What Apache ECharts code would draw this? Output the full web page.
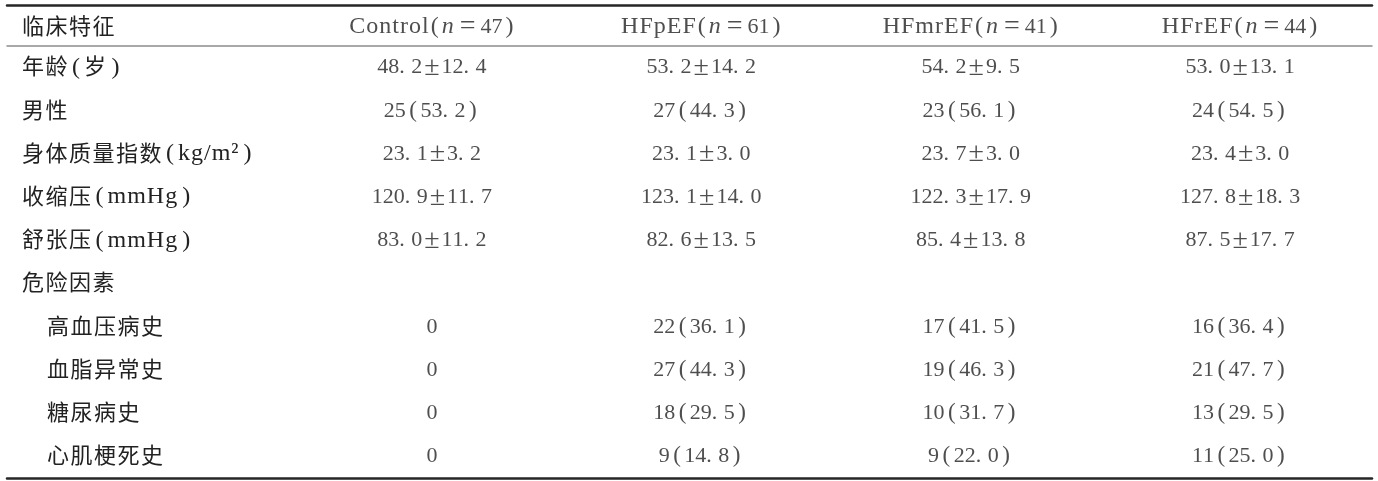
<!DOCTYPE html>
<html>
<head>
<meta charset="utf-8">
<script src="https://cdn.jsdelivr.net/npm/echarts@6/dist/echarts.min.js"></script>
<style>
html,body{margin:0;padding:0;background:#fff;}
#chart{width:1378px;height:481px;}
</style>
</head>
<body>
<div id="chart"></div>
<script>
// ---- data ----
var headerLabel = '临床特征';
var groupNames = ['Control', 'HFpEF', 'HFmrEF', 'HFrEF'];
var groupN = [47, 61, 41, 44];
var rowLabels = ['年龄(岁)', '男性', '身体质量指数(kg/m²)', '收缩压(mmHg)', '舒张压(mmHg)', '危险因素', '高血压病史', '血脂异常史', '糖尿病史', '心肌梗死史'];
var subRows = ['高血压病史', '血脂异常史', '糖尿病史', '心肌梗死史'];
var controlVals = ['48.2±12.4', '25(53.2)', '23.1±3.2', '120.9±11.7', '83.0±11.2', '', '0', '0', '0', '0'];
var hfpefVals = ['53.2±14.2', '27(44.3)', '23.1±3.0', '123.1±14.0', '82.6±13.5', '', '22(36.1)', '27(44.3)', '18(29.5)', '9(14.8)'];
var hfmrefVals = ['54.2±9.5', '23(56.1)', '23.7±3.0', '122.3±17.9', '85.4±13.8', '', '17(41.5)', '19(46.3)', '10(31.7)', '9(22.0)'];
var hfrefVals = ['53.0±13.1', '24(54.5)', '23.4±3.0', '127.8±18.3', '87.5±17.7', '', '16(36.4)', '21(47.7)', '13(29.5)', '11(25.0)'];

// ---- build ----
var columns = [controlVals, hfpefVals, hfmrefVals, hfrefVals];
var LAT = '"Liberation Serif", serif';
var CJK = '"Noto Sans CJK SC", sans-serif';
var TXT = '#222';
var LH = 28;

function st(font, size, pad, extra) {
  return Object.assign({fontFamily: font, fontSize: size, color: TXT, lineHeight: LH, verticalAlign: 'middle', padding: pad}, extra || {});
}
var rich = {
  c: st(CJK, 22, [0, 1.5, 3, 0]),
  ci: st(CJK, 22, [0, 1.5, 3, 25]),
  L: st(LAT, 24, [0, 1, 0, 0]),
  d: st(LAT, 22, [0, 0, 0, 0]),
  dot: st(LAT, 22, [0, 6.5, 0, 0]),
  pm: st(LAT, 28, [0, 2, 0, 2]),
  lp: st(LAT, 24, [0, 4, 0, 3]),
  rp: st(LAT, 24, [0, 3, 0, 4]),
  np: st(LAT, 23, [0, 3.5, 0, 3.5]),
  hp: st(LAT, 24, [0, 3, 0, 1]),
  hrp: st(LAT, 24, [0, 1, 0, 3]),
  eq: st(LAT, 28, [0, 5, 0, 5]),
  i: st(LAT, 24, [0, 1, 0, 0], {fontStyle: 'italic'})
};

// turn a text into rich tokens (character spacing like the typeset original)
function styled(s, ctx, indent) {
  var out = '';
  var first = true;
  for (var k = 0; k < s.length; k++) {
    var ch = s.charAt(k), key;
    if (/[\u4e00-\u9fff]/.test(ch)) key = (indent && first) ? 'ci' : 'c';
    else if (/[0-9]/.test(ch)) key = 'd';
    else if (ch === '.') key = 'dot';
    else if (ch === '±') key = 'pm';
    else if (ch === '=') key = 'eq';
    else if (ch === '(') key = ctx === 'lab' ? 'lp' : (ctx === 'head' ? 'hp' : 'np');
    else if (ch === ')') key = ctx === 'lab' ? 'rp' : (ctx === 'head' ? 'hrp' : 'np');
    else key = 'L';
    out += '{' + key + '|' + ch + '}';
    first = false;
  }
  return out;
}

var bodyData = [];
columns.forEach(function (col, ci) {
  col.forEach(function (v, ri) {
    if (v !== '') bodyData.push([ci, ri, v]);
  });
});
var headData = groupNames.map(function (g, ci) {
  return [ci, 0, g, groupN[ci]];
});

var xBase = {
  type: 'value', min: -1.5772, max: 3.4896,
  axisTick: {show: false}, axisLabel: {show: false}, splitLine: {show: false}
};
function xAxis(grid, pos, lineColor, lineWidth) {
  return Object.assign({}, xBase, {
    gridIndex: grid, position: pos,
    axisLine: {show: true, onZero: false, lineStyle: {color: lineColor, width: lineWidth}}
  });
}

var option = {
  animation: false,
  backgroundColor: '#fff',
  grid: [
    {left: 7, right: 6, top: 5, height: 44},
    {left: 7, right: 6, top: 46, bottom: 3}
  ],
  xAxis: [
    xAxis(0, 'top', '#262626', 2.5),
    xAxis(1, 'top', '#8c8c8c', 1.5),
    xAxis(1, 'bottom', '#262626', 2.5)
  ],
  yAxis: [
    {
      type: 'category', gridIndex: 0, data: [headerLabel], inverse: true,
      axisLine: {show: false}, axisTick: {show: false}, splitLine: {show: false},
      axisLabel: {inside: true, margin: 15, align: 'left', rich: rich,
        formatter: function (v) { return styled(v, 'lab', false); }}
    },
    {
      type: 'category', gridIndex: 1, data: rowLabels, inverse: true,
      axisLine: {show: false}, axisTick: {show: false}, splitLine: {show: false},
      axisLabel: {inside: true, margin: 15, align: 'left', interval: 0, rich: rich,
        formatter: function (v) { return styled(v, 'lab', subRows.indexOf(v) >= 0); }}
    }
  ],
  series: [
    {
      type: 'scatter', xAxisIndex: 0, yAxisIndex: 0, symbolSize: 0, silent: true,
      data: headData,
      label: {show: true, position: 'inside', rich: rich,
        formatter: function (p) {
          return styled(p.value[2], 'head') + '{hp|(}{i|n}' + styled('=' + p.value[3], 'head') + '{hrp|)}';
        }}
    },
    {
      type: 'scatter', xAxisIndex: 2, yAxisIndex: 1, symbolSize: 0, silent: true,
      data: bodyData,
      label: {show: true, position: 'inside', rich: rich,
        formatter: function (p) { return styled(p.value[2], 'num'); }}
    }
  ]
};
var chart = echarts.init(document.getElementById('chart'), null, {renderer: 'canvas'});
chart.setOption(option);
</script>
</body>
</html>
